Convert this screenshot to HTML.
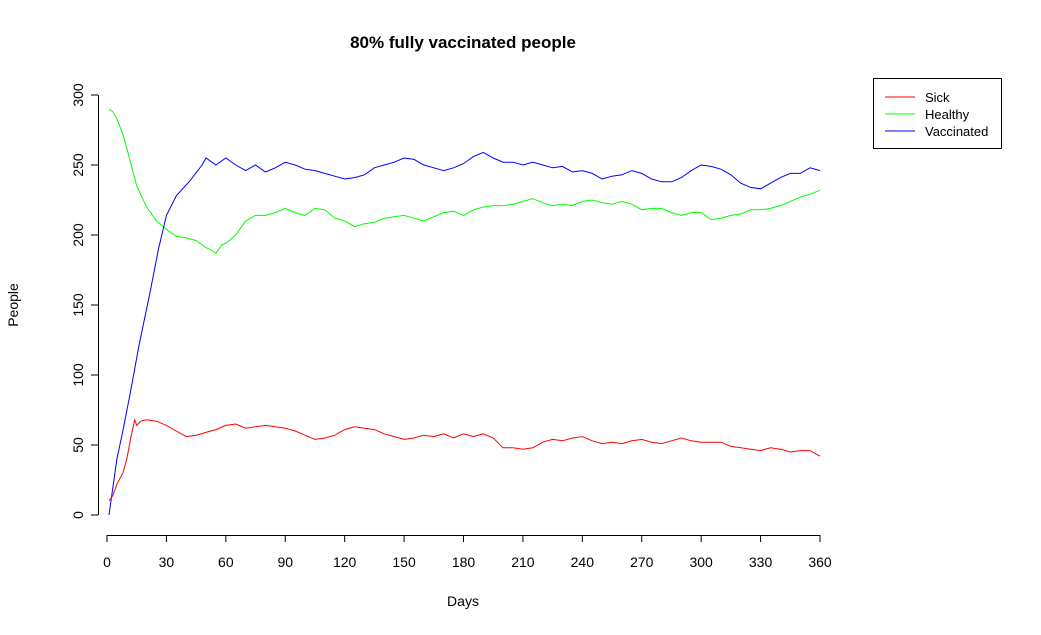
<!DOCTYPE html>
<html><head><meta charset="utf-8"><style>
body{margin:0;background:#fff}
svg text{font-family:"Liberation Sans",Arial,sans-serif;fill:#000}
</style></head><body>
<svg id="chart" width="1041" height="630">
<text x="463" y="48" text-anchor="middle" font-size="17" font-weight="bold">80% fully vaccinated people</text>
<text x="463" y="606" text-anchor="middle" font-size="14">Days</text>
<text transform="translate(18,305) rotate(-90)" text-anchor="middle" font-size="14">People</text>
<g id="xaxis"></g>
<g id="yaxis"></g>
<g id="series"></g>
<g>
<rect x="873.5" y="78.5" width="128" height="70" fill="#fff" stroke="#000"/>
<line x1="885" x2="915" y1="97" y2="97" stroke="#f00"/>
<text x="925" y="102" font-size="13">Sick</text>
<line x1="885" x2="915" y1="114" y2="114" stroke="#0f0"/>
<text x="925" y="119" font-size="13">Healthy</text>
<line x1="885" x2="915" y1="131" y2="131" stroke="#00f"/>
<text x="925" y="136" font-size="13">Vaccinated</text>
</g>
</svg>
<script>
const xTicks=[0,30,60,90,120,150,180,210,240,270,300,330,360];
const yTicks=[0,50,100,150,200,250,300];
const vacDays=[1,3,5,8,12,16,22,26,30,35,42,48,50,55,60,65,70,75,80,85,90,95,100,105,110,115,120,125,130,135,140,145,150,155,160,165,170,175,180,185,190,195,200,205,210,215,220,225,230,235,240,245,250,255,260,265,270,275,280,285,290,295,300,305,310,315,320,325,330,335,340,345,350,355,360];
const vacVals=[0,20,40,60,89,120,161,190,214,228,239,250,255,250,255,250,246,250,245,248,252,250,247,246,244,242,240,241,243,248,250,252,255,254,250,248,246,248,251,256,259,255,252,252,250,252,250,248,249,245,246,244,240,242,243,246,244,240,238,238,241,246,250,249,247,243,237,234,233,237,241,244,244,248,246];
const healthDays=[1,3,5,8,10,15,20,25,30,35,40,45,50,53,55,58,60,65,70,75,80,85,90,95,100,105,110,115,120,125,130,135,140,145,150,155,160,165,170,175,180,185,190,195,200,205,210,215,220,225,230,235,240,245,250,255,260,265,270,275,280,285,290,295,300,305,310,315,320,325,330,335,340,345,350,355,360];
const healthVals=[290,288,283,272,262,235,220,210,204,199,198,196,191,189,187,193,194,200,210,214,214,216,219,216,214,219,218,212,210,206,208,209,212,213,214,212,210,213,216,217,214,218,220,221,221,222,224,226,223,221,222,221,224,225,223,222,224,222,218,219,219,216,214,216,216,211,212,214,215,218,218,219,221,224,227,229,232];
const sickDays=[1,3,5,8,10,12,14,15,17,20,25,30,35,40,45,50,55,60,65,70,75,80,85,90,95,100,105,110,115,120,125,130,135,140,145,150,155,160,165,170,175,180,185,190,195,200,205,210,215,220,225,230,235,240,245,250,255,260,265,270,275,280,285,290,295,300,305,310,315,320,325,330,335,340,345,350,355,360];
const sickVals=[10,14,22,30,40,55,68,64,67,68,67,64,60,56,57,59,61,64,65,62,63,64,63,62,60,57,54,55,57,61,63,62,61,58,56,54,55,57,56,58,55,58,56,58,55,48,48,47,48,52,54,53,55,56,53,51,52,51,53,54,52,51,53,55,53,52,52,52,49,48,47,46,48,47,45,46,46,42];
const NS='http://www.w3.org/2000/svg';
const X=d=>107+d*(713/360), Y=v=>515-v*1.4;
function mk(tag,attrs,parent){const e=document.createElementNS(NS,tag);for(const k in attrs)e.setAttribute(k,attrs[k]);parent.appendChild(e);return e;}
const xa=document.getElementById('xaxis'), ya=document.getElementById('yaxis'), sg=document.getElementById('series');
mk('line',{x1:X(0),x2:X(360),y1:535.5,y2:535.5,stroke:'#000'},xa);
xTicks.forEach(t=>{
  const l=mk('line',{x1:X(t),x2:X(t),y1:535,y2:542,stroke:'#000'},xa);
  
  
  const tx=mk('text',{x:X(t),y:567,'text-anchor':'middle','font-size':14},xa);tx.textContent=t;
  
  
});
mk('line',{x1:98.5,x2:98.5,y1:Y(0),y2:Y(300),stroke:'#000'},ya);
yTicks.forEach(t=>{
  const l=mk('line',{x1:91,x2:98,y1:Y(t),y2:Y(t),stroke:'#000'},ya);
  
  
  const tx=mk('text',{transform:`translate(83,${Y(t)}) rotate(-90)`,'text-anchor':'middle','font-size':14},ya);tx.textContent=t;
  
  
});
function line(days,vals,color,name){
  const p=mk('polyline',{points:days.map((d,i)=>X(d)+','+Y(vals[i])).join(' '),fill:'none',stroke:color,'stroke-width':1},sg);
  
  
}
line(healthDays,healthVals,'#0f0','healthy-line');
line(vacDays,vacVals,'#00f','vaccinated-line');
line(sickDays,sickVals,'#f00','sick-line');
</script>
</body></html>
